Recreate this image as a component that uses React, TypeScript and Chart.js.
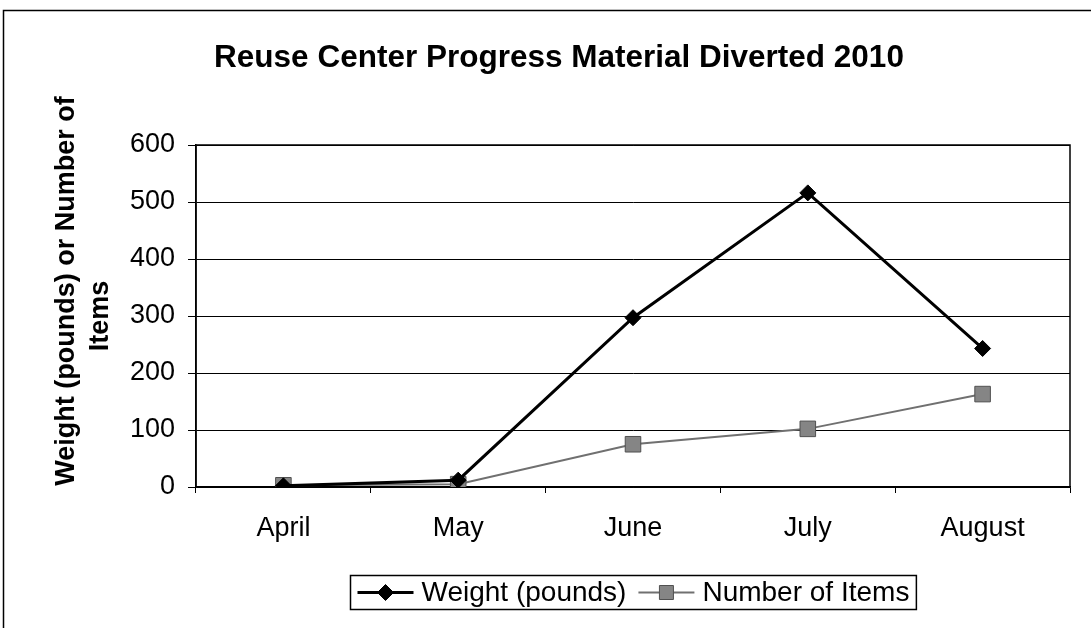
import { useEffect, useRef } from 'react';
import { Chart, registerables } from 'chart.js';

Chart.register(...registerables);

const TITLE = 'Reuse Center Progress Material Diverted 2010';
const Y_TITLE = ['Weight (pounds) or Number of', 'Items'];
const MONTHS = ['April', 'May', 'June', 'July', 'August'];
const WEIGHT = [2, 12, 297, 516, 243];
const ITEMS = [3, 5, 75, 102, 163];
const Y_MIN = 0;
const Y_MAX = 600;
const Y_STEP = 100;

const FONT = '"Liberation Sans", Arial, Helvetica, sans-serif';

function drawMarker(ctx: CanvasRenderingContext2D, style: string, x: number, y: number, r: number, fill: string, stroke: string) {
  ctx.save();
  ctx.beginPath();
  if (style === 'rectRot') {
    ctx.moveTo(x, y - r);
    ctx.lineTo(x + r, y);
    ctx.lineTo(x, y + r);
    ctx.lineTo(x - r, y);
    ctx.closePath();
  } else {
    ctx.rect(x - r, y - r, 2 * r, 2 * r);
  }
  ctx.fillStyle = fill;
  ctx.fill();
  ctx.strokeStyle = stroke;
  ctx.lineWidth = 1;
  ctx.stroke();
  ctx.restore();
}

const decor = {
  id: 'decor',
  beforeDraw(chart: any) {
    const ctx = chart.ctx;
    ctx.save();
    ctx.fillStyle = '#fff';
    ctx.fillRect(0, 0, chart.width, chart.height);
    // outer chart frame (left and top edges visible)
    ctx.strokeStyle = '#000';
    ctx.lineWidth = 1.5;
    ctx.beginPath();
    ctx.moveTo(3.5, chart.height + 5);
    ctx.lineTo(3.5, 10.5);
    ctx.lineTo(chart.width + 5, 10.5);
    ctx.stroke();
    ctx.restore();
  },
  beforeDatasetsDraw(chart: any) {
    const { left, right, top, bottom } = chart.chartArea;
    const ctx = chart.ctx;
    ctx.save();
    ctx.strokeStyle = '#000';
    ctx.lineWidth = 1.5;
    ctx.strokeRect(left, top, right - left, bottom - top);
    ctx.restore();
  },
  afterDraw(chart: any) {
    const ctx = chart.ctx;
    const area = chart.chartArea;
    ctx.save();
    ctx.fillStyle = '#000';
    // chart title
    ctx.font = `bold 31.5px ${FONT}`;
    ctx.textAlign = 'center';
    ctx.textBaseline = 'alphabetic';
    ctx.fillText(TITLE, 559, 67);

    // y axis title (rotated, two lines)
    ctx.font = `bold 27px ${FONT}`;
    const yTitlePos = [
      { x: 74, y: 291 },
      { x: 108, y: 316 },
    ];
    Y_TITLE.forEach((line, i) => {
      ctx.save();
      ctx.translate(yTitlePos[i].x, yTitlePos[i].y);
      ctx.rotate(-Math.PI / 2);
      ctx.textAlign = 'center';
      ctx.textBaseline = 'alphabetic';
      ctx.fillText(line, 0, 0);
      ctx.restore();
    });

    // legend
    ctx.font = `28px ${FONT}`;
    ctx.textAlign = 'left';
    ctx.textBaseline = 'middle';
    const pad = 7;
    const lineLen = 56;
    const gap = 8;
    const itemGap = 12;
    const ds = chart.data.datasets;
    const widths = ds.map((d: any) => ctx.measureText(d.label).width);
    let total = pad * 2;
    widths.forEach((w: number, i: number) => {
      total += lineLen + gap + w + (i > 0 ? itemGap : 0);
    });
    const cx = (area.left + area.right) / 2;
    const boxLeft = Math.round(cx - total / 2) + 0.5;
    const boxTop = 575.5;
    const boxH = 34;
    ctx.fillStyle = '#fff';
    ctx.fillRect(boxLeft, boxTop, total, boxH);
    ctx.strokeStyle = '#000';
    ctx.lineWidth = 1.5;
    ctx.strokeRect(boxLeft, boxTop, total, boxH);
    const midY = boxTop + boxH / 2;
    let x = boxLeft + pad;
    ds.forEach((d: any, i: number) => {
      if (i > 0) x += itemGap;
      ctx.save();
      ctx.strokeStyle = d.borderColor;
      ctx.lineWidth = d.borderWidth;
      ctx.beginPath();
      ctx.moveTo(x, midY);
      ctx.lineTo(x + lineLen, midY);
      ctx.stroke();
      ctx.restore();
      drawMarker(ctx, d.pointStyle, x + lineLen / 2, midY, d.pointStyle === 'rectRot' ? 8 : 7, d.pointBackgroundColor, d.pointBorderColor);
      x += lineLen + gap;
      ctx.fillStyle = '#000';
      ctx.fillText(d.label, x, midY + 1);
      x += widths[i];
    });
    ctx.restore();
  },
};

export default function App() {
  const ref = useRef<HTMLCanvasElement | null>(null);

  useEffect(() => {
    if (!ref.current) return;
    const chart = new Chart(ref.current, {
      type: 'line',
      data: {
        labels: MONTHS,
        datasets: [
          {
            label: 'Weight (pounds)',
            data: WEIGHT,
            borderColor: '#000',
            borderWidth: 3,
            pointStyle: 'rectRot',
            pointRadius: 8,
            pointBackgroundColor: '#000',
            pointBorderColor: '#000',
            pointBorderWidth: 1,
            tension: 0,
          },
          {
            label: 'Number of Items',
            data: ITEMS,
            borderColor: '#707070',
            borderWidth: 2,
            pointStyle: 'rect',
            pointRadius: 11,
            pointBackgroundColor: '#858585',
            pointBorderColor: '#505050',
            pointBorderWidth: 1,
            tension: 0,
          },
        ],
      },
      options: {
        animation: false,
        responsive: false,
        devicePixelRatio: 1,
        layout: { padding: { top: 145, left: 0, right: 21, bottom: 81 } },
        plugins: {
          legend: { display: false },
          title: { display: false },
          tooltip: { enabled: false },
        },
        scales: {
          x: {
            offset: true,
            grid: { display: true, drawOnChartArea: false, drawTicks: true, tickLength: 6, color: '#000', offset: true },
            border: { display: true, color: '#000', width: 1.5 },
            ticks: { color: '#000', font: { family: FONT, size: 27 }, padding: 19, maxRotation: 0 },
            afterFit: (s: any) => {
              s.height = 60;
            },
          },
          y: {
            min: Y_MIN,
            max: Y_MAX,
            grid: { color: '#000', lineWidth: 1, drawTicks: true, tickLength: 8 },
            border: { display: true, color: '#000', width: 1.5 },
            ticks: { stepSize: Y_STEP, color: '#000', font: { family: FONT, size: 27 }, padding: 13 },
            afterFit: (s: any) => {
              s.width = 196;
            },
          },
        },
      },
      plugins: [decor],
    });
    return () => chart.destroy();
  }, []);

  return (
    <div style={{ position: 'fixed', left: 0, top: 0, width: 1091, height: 628, background: '#fff' }}>
      <canvas ref={ref} width={1091} height={628} style={{ display: 'block', width: 1091, height: 628 }} />
    </div>
  );
}
